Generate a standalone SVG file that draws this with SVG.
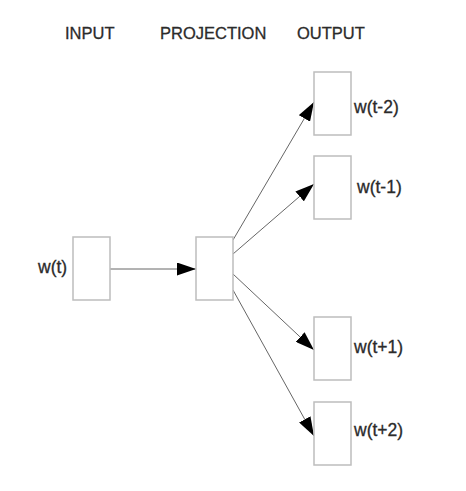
<svg xmlns="http://www.w3.org/2000/svg" width="466" height="491" viewBox="0 0 466 491">
<style>
.box{fill:#fff;stroke:#bdbdbd;stroke-width:1.5}
.hdr{font-family:"Liberation Sans",Arial,sans-serif;font-size:16.5px;fill:#2b2b2b;stroke:#2b2b2b;stroke-width:0.3}
.lbl{font-family:"Liberation Sans",Arial,sans-serif;font-size:17.5px;fill:#2b2b2b;stroke:#2b2b2b;stroke-width:0.3}
.edge{stroke:#666;stroke-width:1;fill:none}
</style>
<defs>
<marker id="ah" markerUnits="userSpaceOnUse" markerWidth="19" markerHeight="13" refX="19" refY="6.5" orient="auto" viewBox="0 0 19 13">
<path d="M0,0 L19,6.5 L0,13 z" fill="#000"/>
</marker>
</defs>
<rect width="466" height="491" fill="#fff"/>
<g id="headers">
<text class="hdr" x="65" y="39">INPUT</text>
<text class="hdr" x="160" y="39">PROJECTION</text>
<text class="hdr" x="297" y="39">OUTPUT</text>
</g>
<g id="connectors">
<line class="edge" x1="109" y1="269" x2="196" y2="269" marker-end="url(#ah)"/>
<line class="edge" x1="233" y1="240" x2="314" y2="102" marker-end="url(#ah)"/>
<line class="edge" x1="233" y1="254" x2="314" y2="184" marker-end="url(#ah)"/>
<line class="edge" x1="233" y1="274" x2="314" y2="350" marker-end="url(#ah)"/>
<line class="edge" x1="233" y1="290" x2="314" y2="436" marker-end="url(#ah)"/>
</g>
<g id="input">
<rect class="box" x="73" y="237" width="37" height="63"/>
<text class="lbl" x="38" y="273">w(t)</text>
</g>
<g id="projection">
<rect class="box" x="196" y="237" width="37" height="63"/>
</g>
<g id="out-tm2">
<rect class="box" x="314" y="72" width="37" height="63"/>
<text class="lbl" x="354" y="113">w(t-2)</text>
</g>
<g id="out-tm1">
<rect class="box" x="314" y="156" width="37" height="63"/>
<text class="lbl" x="357" y="193">w(t-1)</text>
</g>
<g id="out-tp1">
<rect class="box" x="314" y="317" width="37" height="63"/>
<text class="lbl" x="354" y="353">w(t+1)</text>
</g>
<g id="out-tp2">
<rect class="box" x="314" y="402" width="37" height="63"/>
<text class="lbl" x="354" y="436">w(t+2)</text>
</g>
</svg>
